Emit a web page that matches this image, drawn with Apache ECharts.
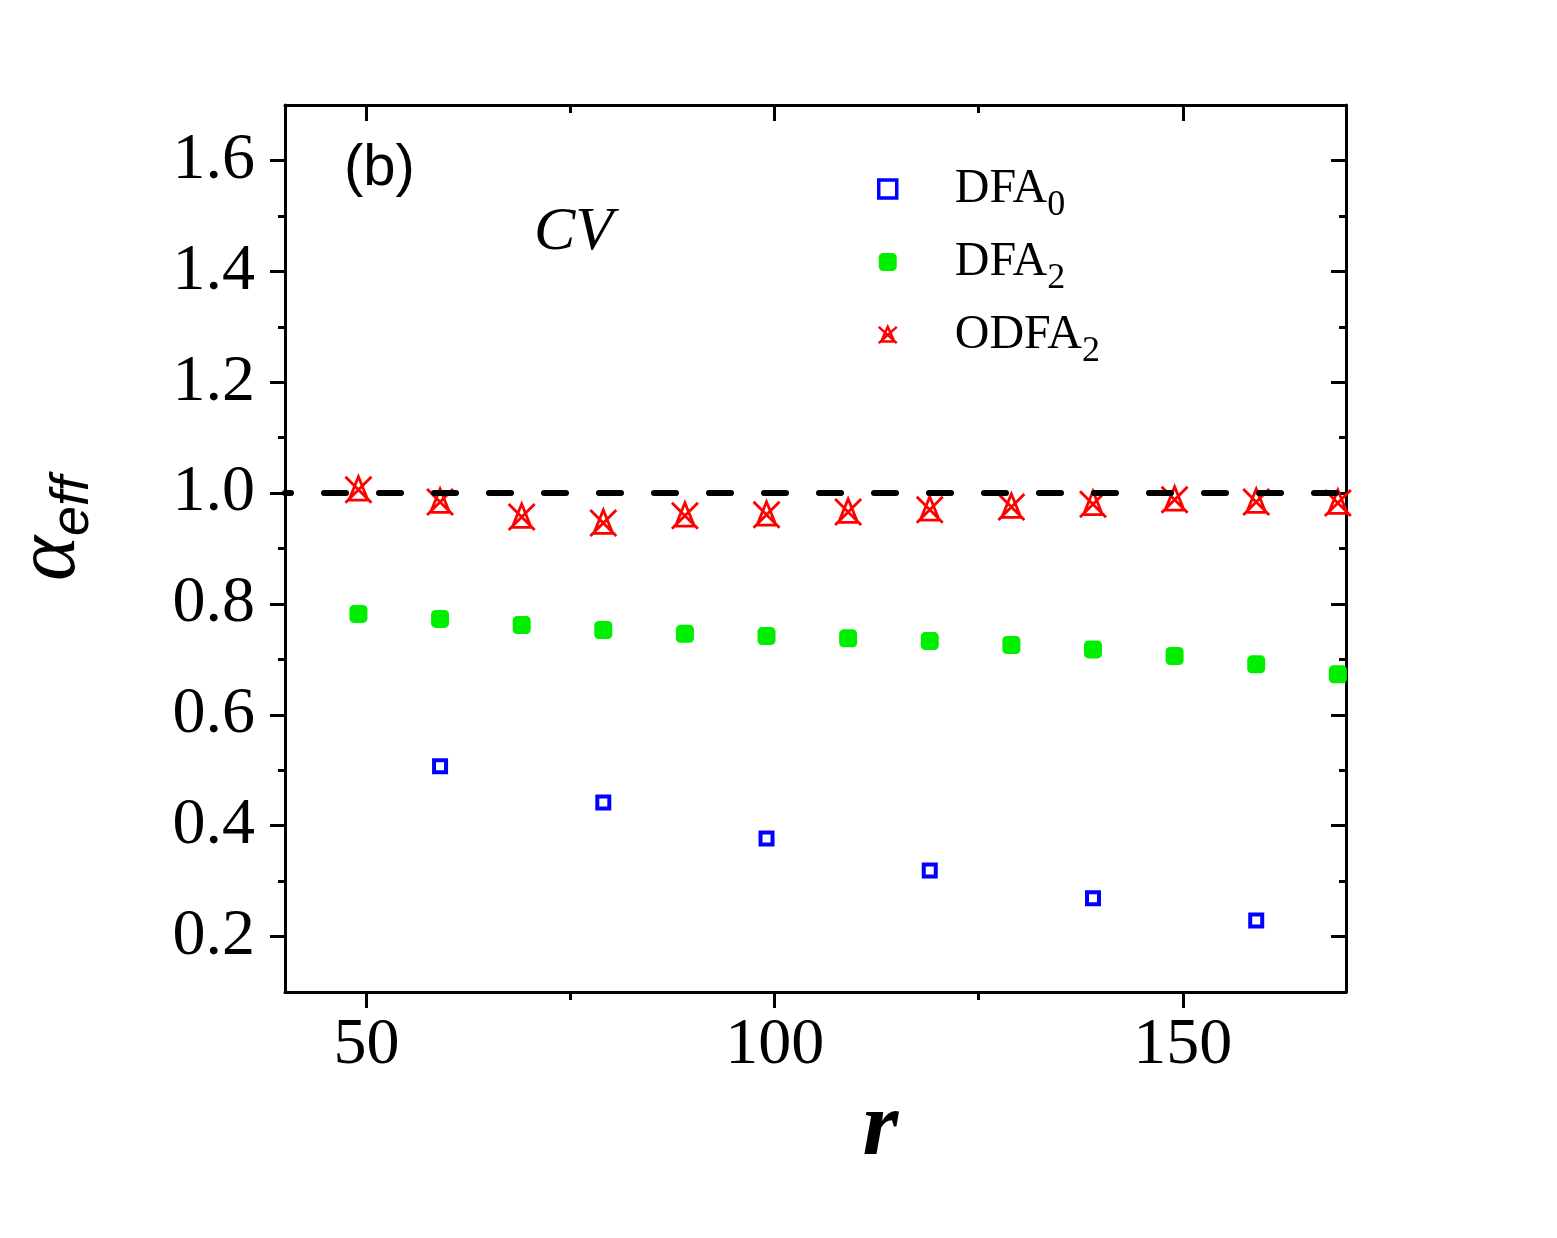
<!DOCTYPE html>
<html>
<head>
<meta charset="utf-8">
<script src="https://cdn.jsdelivr.net/npm/echarts@6/dist/echarts.min.js"></script>
<style>
  html, body { margin: 0; padding: 0; background: #fff; }
  #chart { width: 1557px; height: 1238px; }
</style>
</head>
<body>
<div id="chart"></div>
<script>
// 数据
var rDfa0 = [39, 59, 79, 99, 119, 139, 159];
var dfa0 = [0.583, 0.507, 0.442, 0.377, 0.319, 0.269, 0.229];
var rAll = [39, 49, 59, 69, 79, 89, 99, 109, 119, 129, 139, 149, 159, 169];
var dfa2 = [0.791, 0.782, 0.773, 0.762, 0.753, 0.746, 0.742, 0.738, 0.733, 0.726, 0.718, 0.706, 0.691, 0.673];
var odfa2 = [0.959, 1.006, 0.984, 0.957, 0.946, 0.959, 0.961, 0.966, 0.970, 0.975, 0.980, 0.988, 0.984, 0.982];
var refLevel = 1.0;

var xMajor = [50, 100, 150];
var xMinor = [75, 125];
var yMajor = [0.2, 0.4, 0.6, 0.8, 1.0, 1.2, 1.4, 1.6];
var yMinor = [0.3, 0.5, 0.7, 0.9, 1.1, 1.3, 1.5];

function pairs(xs, ys) {
    return xs.map(function (x, i) { return [x, ys[i]]; });
}

var chart = echarts.init(document.getElementById('chart'));

var gridBox = { left: 285, top: 105, width: 1061, height: 887 };
var serif = 'Liberation Serif';

// 一个坐标轴的模板
function xAx(idx, pos, ticks, len, inside, main) {
    return {
        type: 'value', gridIndex: idx, position: pos, min: 40, max: 170,
        axisLine: { show: main, lineStyle: { color: '#000', width: 3 } },
        axisTick: { show: true, customValues: ticks, length: len, inside: inside,
            lineStyle: { color: '#000', width: 3 } },
        axisLabel: { show: idx === 0, customValues: ticks, margin: 21,
            fontFamily: serif, fontSize: 66, color: '#000' },
        splitLine: { show: false }
    };
}
function yAx(idx, pos, ticks, len, inside, main) {
    return {
        type: 'value', gridIndex: idx, position: pos, min: 0.1, max: 1.7,
        axisLine: { show: main, lineStyle: { color: '#000', width: 3 } },
        axisTick: { show: true, customValues: ticks, length: len, inside: inside,
            lineStyle: { color: '#000', width: 3 } },
        axisLabel: { show: idx === 0, customValues: ticks, margin: 30,
            fontFamily: serif, fontSize: 66, color: '#000',
            formatter: function (v) { return v.toFixed(1); } },
        splitLine: { show: false }
    };
}

var xAxes = [
    xAx(0, 'bottom', xMajor, 16, false, true),
    xAx(1, 'bottom', xMinor, 8, false, false),
    xAx(2, 'top', xMajor, 16, true, true),
    xAx(3, 'top', xMinor, 8, true, false)
];
var yAxes = [
    yAx(0, 'left', yMajor, 15, false, true),
    yAx(1, 'left', yMinor, 7, false, false),
    yAx(2, 'right', yMajor, 15, true, true),
    yAx(3, 'right', yMinor, 7, true, false)
];

xAxes[0].name = 'r';
xAxes[0].nameLocation = 'middle';
xAxes[0].nameGap = 44;
xAxes[0].nameTextStyle = { fontFamily: serif, fontStyle: 'italic', fontWeight: 'bold',
    fontSize: 92, color: '#000', padding: [0, 0, 0, 130] };

yAxes[0].name = '{a|α}{s|eff}';
yAxes[0].nameLocation = 'middle';
yAxes[0].nameGap = 185;
yAxes[0].nameTextStyle = {
    color: '#000', padding: [0, 0, 0, 40],
    rich: {
        a: { fontFamily: serif, fontStyle: 'italic', fontSize: 86, color: '#000' },
        s: { fontFamily: 'Liberation Sans', fontStyle: 'italic', fontSize: 54, color: '#000',
            padding: [44, 0, 0, 0] }
    }
};

var legendNames = { 'DFA0': ['DFA', '0'], 'DFA2': ['DFA', '2'], 'ODFA2': ['ODFA', '2'] };

var option = {
    backgroundColor: '#fff',
    animation: false,
    grid: [0, 1, 2, 3].map(function () { return Object.assign({}, gridBox); }),
    xAxis: xAxes,
    yAxis: yAxes,
    legend: {
        orient: 'vertical', left: 872, top: 160,
        itemWidth: 18, itemHeight: 18, itemGap: 14,
        data: [
            { name: 'DFA0', itemStyle: { borderWidth: 3.5 } },
            { name: 'DFA2' },
            { name: 'ODFA2', itemStyle: { borderWidth: 2.5 } }
        ],
        formatter: function (name) {
            var p = legendNames[name];
            return '{a|' + p[0] + '}{s|' + p[1] + '}';
        },
        textStyle: {
            padding: [0, 0, 0, 53],
            rich: {
                a: { fontFamily: serif, fontSize: 48, color: '#000' },
                s: { fontFamily: serif, fontSize: 36, color: '#000', padding: [34, 0, 0, 0] }
            }
        }
    },
    graphic: [
        { type: 'text', left: 344, top: 140,
          style: { text: '(b)', font: '58px "Liberation Sans"', fill: '#000' } },
        { type: 'text', left: 534, top: 202,
          style: { text: 'CV', font: 'italic 62px "Liberation Serif"', fill: '#000' } }
    ],
    series: [
        {
            name: 'DFA0', type: 'scatter', xAxisIndex: 0, yAxisIndex: 0,
            symbol: 'rect', symbolSize: 12,
            itemStyle: { color: '#fff', borderColor: '#0000ff', borderWidth: 4, opacity: 1 },
            data: pairs(rDfa0, dfa0)
        },
        {
            name: 'DFA2', type: 'scatter', xAxisIndex: 0, yAxisIndex: 0,
            symbol: 'roundRect', symbolSize: 18,
            itemStyle: { color: '#00ee00', opacity: 1 },
            data: pairs(rAll, dfa2)
        },
        {
            name: 'ODFA2', type: 'scatter', xAxisIndex: 0, yAxisIndex: 0,
            symbol: 'path://M4,21 L12,3 L20,21 Z M1,3 L23,23 M23,3 L1,23',
            symbolSize: 26, z: 3,
            itemStyle: { color: 'transparent', borderColor: '#ff0000', borderWidth: 2.8, opacity: 1 },
            data: pairs(rAll, odfa2),
            markLine: {
                silent: true, symbol: 'none', z: 4,
                label: { show: false },
                lineStyle: { color: '#000', width: 6, type: [22, 33], dashOffset: 16, cap: 'round' },
                data: [{ yAxis: refLevel }]
            }
        }
    ]
};

chart.setOption(option);
</script>
</body>
</html>
